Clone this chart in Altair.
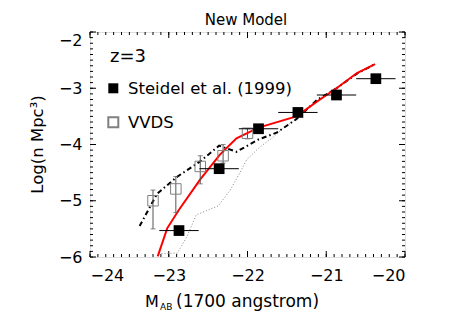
import altair as alt
import numpy as np
import pandas as pd

# ---- data ----
steidel_x = [-22.87, -22.36, -21.86, -21.36, -20.87, -20.37]
steidel_y = [-5.53, -4.43, -3.72, -3.43, -3.12, -2.83]
steidel_xerr = [0.25, 0.25, 0.25, 0.25, 0.25, 0.25]

vvds_x = [-23.20, -22.91, -22.60, -22.31, -22.00]
vvds_y = [-5.00, -4.79, -4.39, -4.20, -3.80]
vvds_lo = [-5.50, -5.21, -4.70, -4.33, -3.90]
vvds_hi = [-4.81, -4.57, -4.20, -4.00, -3.72]

red_x = [-23.14, -23.02, -22.87, -22.60, -22.35, -22.14, -21.86, -21.38, -21.12, -20.87, -20.61, -20.38]
red_y = [-5.99, -5.49, -5.16, -4.62, -4.18, -3.89, -3.70, -3.50, -3.24, -3.00, -2.73, -2.57]

dd_x = [-23.37, -23.15, -22.90, -22.60, -22.36, -22.14, -21.86, -21.63, -21.38, -21.12, -20.87, -20.61, -20.38]
dd_y = [-5.45, -4.88, -4.58, -4.30, -4.02, -4.13, -3.91, -3.79, -3.55, -3.21, -3.00, -2.74, -2.57]

dot_x = [-23.13, -22.89, -22.77, -22.65, -22.37, -22.22, -22.10, -22.01, -21.84, -21.69, -21.55, -21.38, -21.12, -20.87]
dot_y = [-5.94, -5.93, -5.64, -5.25, -5.09, -4.81, -4.51, -4.27, -4.04, -3.89, -3.71, -3.55, -3.21, -3.00]

x_major = [-24, -23, -22, -21, -20]
y_major = [-6, -5, -4, -3, -2]

W, H = 315, 225
FONT = "DejaVu Sans"

xs = alt.Scale(domain=[-24, -20], nice=False, zero=False)
ys = alt.Scale(domain=[-6, -2], nice=False, zero=False)

X_AX = alt.Axis(values=x_major, tickSize=0, domain=False, grid=False, title=None,
                labelFont=FONT, labelFontSize=16, labelPadding=10, labelColor="black", format="d")
Y_AX = alt.Axis(values=y_major, tickSize=0, domain=False, grid=False, title=None,
                labelFont=FONT, labelFontSize=16, labelPadding=8, labelColor="black", format="d",
                labelOffset={"condition": {"test": "datum.value >= -2", "value": 8}, "value": 0})

def XE(f):
    return alt.X(f, scale=xs, axis=X_AX)

def YE(f):
    return alt.Y(f, scale=ys, axis=Y_AX)

steidel = pd.DataFrame({"x": steidel_x, "y": steidel_y,
                        "xlo": [a - e for a, e in zip(steidel_x, steidel_xerr)],
                        "xhi": [a + e for a, e in zip(steidel_x, steidel_xerr)]})
vvds = pd.DataFrame({"x": vvds_x, "y": vvds_y, "lo": vvds_lo, "hi": vvds_hi})
red = pd.DataFrame({"x": red_x, "y": red_y, "o": range(len(red_x))})
dd = pd.DataFrame({"x": dd_x, "y": dd_y, "o": range(len(dd_x))})
dot = pd.DataFrame({"x": dot_x, "y": dot_y, "o": range(len(dot_x))})

xminor = pd.DataFrame({"v": np.round(np.arange(-24, -19.99, 0.1), 2)})
yminor = pd.DataFrame({"v": np.round(np.arange(-6, -1.99, 0.1), 2)})
xmaj = pd.DataFrame({"v": x_major})
ymaj = pd.DataFrame({"v": y_major})

def xticks(df, length):
    b = alt.Chart(df).mark_rule(color="black", strokeWidth=1)
    return (b.encode(x=XE("v:Q"), y=alt.value(H), y2=alt.value(H - length)) +
            b.encode(x=XE("v:Q"), y=alt.value(0), y2=alt.value(length)))

def yticks(df, length):
    b = alt.Chart(df).mark_rule(color="black", strokeWidth=1)
    return (b.encode(y=YE("v:Q"), x=alt.value(0), x2=alt.value(length)) +
            b.encode(y=YE("v:Q"), x=alt.value(W), x2=alt.value(W - length)))

dot_line = alt.Chart(dot).mark_line(color="#888888", strokeWidth=1, strokeDash=[1, 2], clip=True).encode(
    x=XE("x:Q"), y=YE("y:Q"), order="o:O")
dd_line = alt.Chart(dd).mark_line(color="black", strokeWidth=2, strokeDash=[5, 3, 1.5, 3], clip=True).encode(
    x=XE("x:Q"), y=YE("y:Q"), order="o:O")
red_line = alt.Chart(red).mark_line(color="#ff0000", strokeWidth=2, clip=True).encode(
    x=XE("x:Q"), y=YE("y:Q"), order="o:O")

vv_err = alt.Chart(vvds).mark_rule(color="#555555", strokeWidth=1).encode(
    x=XE("x:Q"), y=YE("lo:Q"), y2="hi:Q")
vv_cap_lo = alt.Chart(vvds).mark_tick(color="#555555", orient="horizontal", size=5, thickness=1).encode(
    x=XE("x:Q"), y=YE("lo:Q"))
vv_cap_hi = alt.Chart(vvds).mark_tick(color="#555555", orient="horizontal", size=5, thickness=1).encode(
    x=XE("x:Q"), y=YE("hi:Q"))
vv_pts = alt.Chart(vvds).mark_square(filled=False, color="#808080", size=110, strokeWidth=1, opacity=1).encode(
    x=XE("x:Q"), y=YE("y:Q"))

st_err = alt.Chart(steidel).mark_rule(color="black", strokeWidth=1).encode(
    x=XE("xlo:Q"), x2="xhi:Q", y=YE("y:Q"))
st_pts = alt.Chart(steidel).mark_square(filled=True, color="black", size=115, opacity=1).encode(
    x=XE("x:Q"), y=YE("y:Q"))

one = pd.DataFrame({"t": [""]})

def txt(s, x, y, size, align="left", baseline="alphabetic", angle=0):
    kw = dict(align=align, baseline=baseline, font=FONT, fontSize=size, color="black", text=s)
    if angle:
        kw["angle"] = angle
    return alt.Chart(one).mark_text(**kw).encode(x=alt.value(x), y=alt.value(y))

leg_fill = alt.Chart(one).mark_square(filled=True, color="black", size=100, opacity=1).encode(
    x=alt.value(23.3), y=alt.value(56.3))
leg_open = alt.Chart(one).mark_square(filled=False, color="#808080", size=100, opacity=1).encode(
    x=alt.value(23.3), y=alt.value(90.3))

labels = (
    txt("New Model", 156, -7, 15, align="center") +
    txt("z=3", 20, 30, 18) +
    txt("Steidel et al. (1999)", 38, 62, 16.5) +
    txt("VVDS", 38, 96, 16.5) +
    txt("M", 55, 274.5, 16) +
    txt("AB", 70, 278, 9) +
    txt("(1700 angstrom)", 86, 274.5, 17) +
    txt("Log(n Mpc³)", -52, H / 2, 16.5, align="center", baseline="middle", angle=270)
)

chart = alt.layer(
    xticks(xminor, 3), xticks(xmaj, 6), yticks(yminor, 3), yticks(ymaj, 6),
    dot_line, dd_line, red_line,
    vv_err, vv_cap_lo, vv_cap_hi, vv_pts,
    st_err, st_pts,
    leg_fill, leg_open,
    labels,
).properties(
    width=W, height=H,
    autosize=alt.AutoSizeParams(type="none"),
    padding={"left": 82, "top": 24, "right": 30, "bottom": 62},
).configure_view(stroke="black", strokeWidth=1).configure(background="white")

chart.save("out.html", embed_options={"renderer": "svg", "actions": False})
